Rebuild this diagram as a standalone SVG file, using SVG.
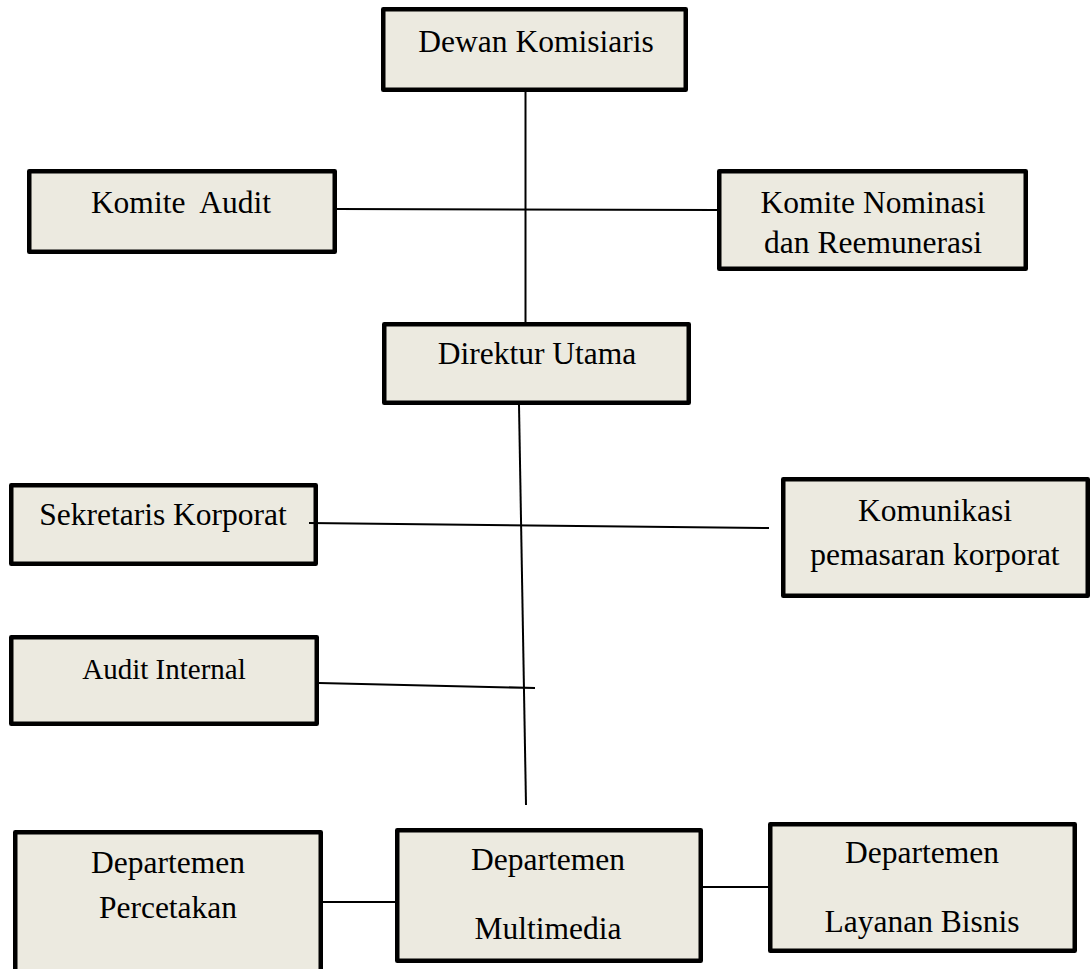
<svg xmlns="http://www.w3.org/2000/svg" width="1092" height="969" viewBox="0 0 1092 969">
<style>
.box{fill:#ECEAE0;stroke:#000;stroke-width:4.5;stroke-linejoin:round}
.t{font-family:"Liberation Serif","Times New Roman",serif;font-size:31.5px;fill:#000;text-anchor:middle}
.s{font-size:29px}
.ln{stroke:#000;stroke-width:2;fill:none}
</style>
<rect width="1092" height="969" fill="#fff"/>
<g id="connectors">
<line class="ln" x1="525.5" y1="92" x2="525.5" y2="322"/>
<line class="ln" x1="337" y1="209" x2="717" y2="210"/>
<line class="ln" x1="519" y1="405" x2="526" y2="805"/>
<line class="ln" x1="319" y1="683" x2="535" y2="688"/>
<line class="ln" x1="323" y1="902" x2="395" y2="902"/>
<line class="ln" x1="703" y1="887" x2="768" y2="887"/>
</g>
<g id="dewan-komisiaris">
<rect class="box" x="383.25" y="9.25" width="302.5" height="80.5"/>
<text class="t" x="536" y="52">Dewan Komisiaris</text>
</g>
<g id="komite-audit">
<rect class="box" x="29.25" y="171.25" width="305.5" height="80.5"/>
<text class="t" x="181" y="213" xml:space="preserve">Komite  Audit</text>
</g>
<g id="komite-nominasi">
<rect class="box" x="719.25" y="171.25" width="306.5" height="97.5"/>
<text class="t" x="873" y="213">Komite Nominasi</text>
<text class="t" x="873" y="253">dan Reemunerasi</text>
</g>
<g id="direktur-utama">
<rect class="box" x="384.25" y="324.25" width="304.5" height="78.5"/>
<text class="t" x="537" y="364">Direktur Utama</text>
</g>
<g id="sekretaris-korporat">
<rect class="box" x="11.25" y="485.25" width="304.5" height="78.5"/>
<text class="t" x="163" y="525">Sekretaris Korporat</text>
</g>
<line class="ln" x1="309" y1="523" x2="769" y2="528"/>
<g id="komunikasi">
<rect class="box" x="783.25" y="479.25" width="304.5" height="116.5"/>
<text class="t" x="935" y="521">Komunikasi</text>
<text class="t" x="935" y="565">pemasaran korporat</text>
</g>
<g id="audit-internal">
<rect class="box" x="11.25" y="637.25" width="305.5" height="86.5"/>
<text class="t s" x="164" y="679">Audit Internal</text>
</g>
<g id="dept-percetakan">
<rect class="box" x="15.25" y="832.25" width="305.5" height="160"/>
<text class="t" x="168" y="873">Departemen</text>
<text class="t" x="168" y="918">Percetakan</text>
</g>
<g id="dept-multimedia">
<rect class="box" x="397.25" y="830.25" width="303.5" height="130.5"/>
<text class="t" x="548" y="870">Departemen</text>
<text class="t" x="548" y="939">Multimedia</text>
</g>
<g id="dept-layanan">
<rect class="box" x="770.25" y="824.25" width="304.5" height="126.5"/>
<text class="t" x="922" y="863">Departemen</text>
<text class="t" x="922" y="932">Layanan Bisnis</text>
</g>
</svg>
